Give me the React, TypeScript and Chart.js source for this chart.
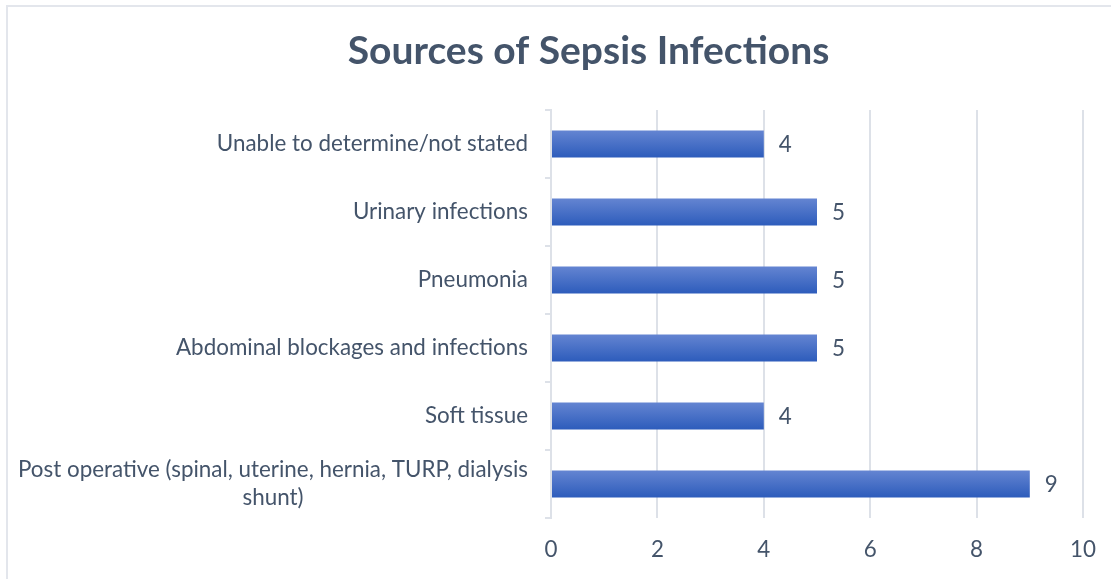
import React, { useEffect, useRef } from "react";
import { Chart, registerables } from "chart.js";

Chart.register(...registerables);

const categories: (string | string[])[] = [
  "Unable to determine/not stated",
  "Urinary infections",
  "Pneumonia",
  "Abdominal blockages and infections",
  "Soft tissue",
  ["Post operative (spinal, uterine, hernia, TURP, dialysis", "shunt)"],
];
const values: number[] = [4, 5, 5, 5, 4, 9];
const xMin = 0;
const xMax = 10;
const xStep = 2;
const titleText = "Sources of Sepsis Infections";

const TEXT = "#44546A";
const GRID = "#DDE1E8";
const FONT = "Lato";
const LABEL_SIZE = 22.4;

export default function App() {
  const ref = useRef<HTMLCanvasElement | null>(null);

  useEffect(() => {
    document.body.style.margin = "0";
    document.body.style.overflow = "hidden";
    const canvas = ref.current;
    if (!canvas) return;

    const labelsPlugin = {
      id: "customLabels",
      afterDatasetsDraw(chart: any) {
        const ctx = chart.ctx;
        const ys = chart.scales.y;
        const xs = chart.scales.x;
        const area = chart.chartArea;
        ctx.save();
        ctx.fillStyle = TEXT;
        ctx.font = `${LABEL_SIZE}px ${FONT}`;
        ctx.textBaseline = "middle";
        categories.forEach((lab, i) => {
          const lines = Array.isArray(lab) ? lab : [lab];
          const py = ys.getPixelForValue(i);
          const maxW = Math.max(...lines.map((l) => ctx.measureText(l).width));
          const right = area.left - 23;
          const cx = right - maxW / 2;
          const lh = 28;
          const startY = py - ((lines.length - 1) * lh) / 2;
          ctx.textAlign = "center";
          lines.forEach((l, k) => ctx.fillText(l, cx, startY + k * lh));
        });
        ctx.textAlign = "left";
        values.forEach((v, i) => {
          const px = xs.getPixelForValue(v);
          const py = ys.getPixelForValue(i);
          ctx.fillText(String(v), px + 15, py + 1);
        });
        ctx.restore();
      },
    };

    const chart = new Chart(canvas, {
      type: "bar",
      data: {
        labels: categories as any,
        datasets: [
          {
            data: values,
            categoryPercentage: 0.4,
            barPercentage: 1,
            borderWidth: 0,
            backgroundColor: (c: any) => {
              const ch = c.chart;
              if (!ch.chartArea || !ch.scales.y) return "#4472C4";
              const y = ch.scales.y.getPixelForValue(c.dataIndex);
              const h = 14;
              const g = ch.ctx.createLinearGradient(0, y - h, 0, y + h);
              g.addColorStop(0, "#6585D2");
              g.addColorStop(1, "#2C5BBB");
              return g;
            },
          },
        ],
      },
      options: {
        indexAxis: "y",
        responsive: false,
        animation: false,
        maintainAspectRatio: false,
        layout: { padding: { left: 94, right: 28, top: 0, bottom: 0 } },
        plugins: {
          legend: { display: false },
          tooltip: { enabled: false },
          title: {
            display: true,
            text: titleText,
            color: TEXT,
            font: { family: FONT, size: 39, weight: "bold" },
            padding: { top: 28, bottom: 35.2 },
          },
        },
        scales: {
          x: {
            min: xMin,
            max: xMax,
            afterFit: (s: any) => {
              s.height = 61;
              s.paddingLeft = 0;
              s.paddingRight = 0;
            },
            ticks: {
              stepSize: xStep,
              color: TEXT,
              font: { family: FONT, size: LABEL_SIZE },
              padding: 18,
              maxRotation: 0,
            },
            grid: { color: GRID, lineWidth: 2, drawTicks: false },
            border: { display: false },
          },
          y: {
            afterFit: (s: any) => {
              s.width = 551 - 94;
            },
            ticks: { color: "rgba(0,0,0,0)", font: { family: FONT, size: 12 } },
            grid: {
              drawOnChartArea: false,
              drawTicks: true,
              tickLength: 6,
              color: GRID,
              lineWidth: 2,
            },
            border: { display: true, color: GRID, width: 2 },
          },
        },
      },
      plugins: [labelsPlugin],
    });
    return () => chart.destroy();
  }, []);

  return (
    <div
      style={{
        position: "fixed",
        left: 0,
        top: 0,
        width: 1111,
        height: 579,
        overflow: "hidden",
        background: "#fff",
      }}
    >
      <div
        style={{
          position: "absolute",
          left: 6,
          top: 5,
          width: 1200,
          height: 700,
          border: "2px solid #E3E6EC",
          boxSizing: "border-box",
        }}
      />
      <canvas
        ref={ref}
        width={1111}
        height={579}
        style={{ position: "absolute", left: 0, top: 0, width: 1111, height: 579 }}
      />
    </div>
  );
}
